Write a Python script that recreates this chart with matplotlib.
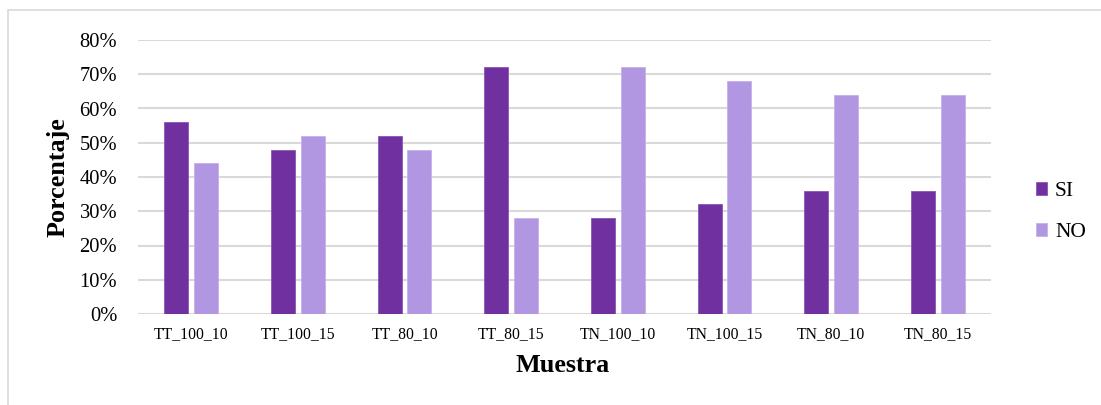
import matplotlib
matplotlib.use("Agg")
import matplotlib.pyplot as plt
import numpy as np
from matplotlib.patches import Rectangle

categories = ["TT_100_10", "TT_100_15", "TT_80_10", "TT_80_15",
              "TN_100_10", "TN_100_15", "TN_80_10", "TN_80_15"]
si_values = [56, 48, 52, 72, 28, 32, 36, 36]
no_values = [44, 52, 48, 28, 72, 68, 64, 64]
series_names = ["SI", "NO"]
y_ticks = [0, 10, 20, 30, 40, 50, 60, 70, 80]

plt.rcParams['font.family'] = ['Liberation Serif', 'DejaVu Serif']

W, H = 1101, 405
fig = plt.figure(figsize=(W / 100, H / 100), dpi=100)
ax = fig.add_axes([138 / W, 1 - 314 / H, (991 - 138) / W, (314 - 40) / H])

x = np.arange(len(categories))
bw = 0.225
off = 0.14
ax.bar(x - off, si_values, bw, color="#7030A0", edgecolor="#8a55b3", linewidth=0.6, label=series_names[0], zorder=3)
ax.bar(x + off, no_values, bw, color="#B196E2", edgecolor="#c5b0ea", linewidth=0.6, label=series_names[1], zorder=3)

ax.set_xlim(-0.5, len(categories) - 0.5)
ax.set_ylim(0, 80)
ax.set_yticks(y_ticks)
ax.set_yticklabels([f"{t}%" for t in y_ticks], fontsize=14.8)
ax.set_xticks(x)
ax.set_xticklabels(categories, fontsize=11.3)
ax.tick_params(axis='both', length=0)
ax.tick_params(axis='y', pad=15)
ax.tick_params(axis='x', pad=9)
ax.grid(axis='y', color="#D9D9D9", linewidth=1.5, zorder=0)
for s in ax.spines.values():
    s.set_visible(False)

fig.text(58 / W, 1 - 177 / H, "Porcentaje", rotation=90, fontsize=18.8,
         fontweight='bold', ha='center', va='center')
fig.text(563 / W, 1 - 366 / H, "Muestra", fontsize=18.8,
         fontweight='bold', ha='center', va='center')

leg = fig.legend(loc='center left', bbox_to_anchor=(1027 / W, 1 - 212 / H),
                 frameon=False, fontsize=15.5, handlelength=0.55, handleheight=0.55,
                 handletextpad=0.35, labelspacing=1.05, borderaxespad=0)

fig.patches.append(Rectangle((8 / W, -0.1), 1.2, 1 - 10 / H + 0.1,
                             transform=fig.transFigure, fill=False,
                             edgecolor="#D9D9D9", linewidth=1.2))

fig.savefig("out.png", dpi=100)
